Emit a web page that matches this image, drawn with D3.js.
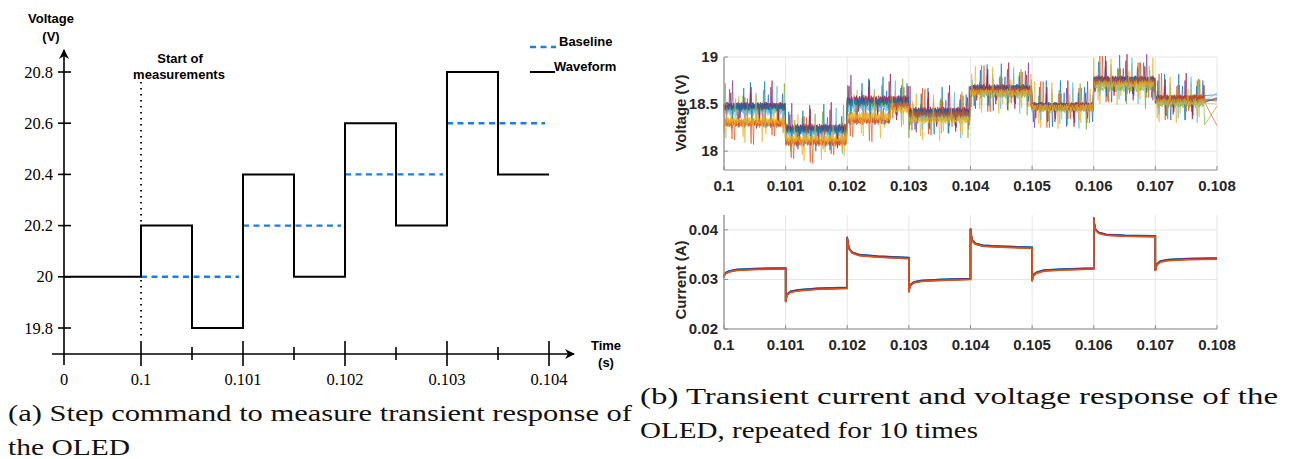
<!DOCTYPE html>
<html>
<head>
<meta charset="utf-8">
<script src="https://cdn.jsdelivr.net/npm/d3@7"></script>
<style>
body { margin: 0; background: #fff; }
svg { display: block; }
</style>
</head>
<body>
<div id="chart"></div>
<script>
// ---- panel (a): step command ----
var stepTimes = [0, 0.1, 0.1005, 0.101, 0.1015, 0.102, 0.1025, 0.103, 0.1035, 0.104];
var stepValues = [20, 20.2, 19.8, 20.4, 20, 20.6, 20.2, 20.8, 20.4, 20.4];
var baseStart = [0.1, 0.101, 0.102, 0.103];
var baseEnd = [0.101, 0.102, 0.103, 0.104];
var baseValues = [20, 20.2, 20.4, 20.6];
var stepXTicks = [0, 0.1, 0.101, 0.102, 0.103, 0.104];
var stepXLabels = ["0", "0.1", "0.101", "0.102", "0.103", "0.104"];
var stepXMinor = [0.1005, 0.1015, 0.1025, 0.1035];
var stepYTicks = [19.8, 20, 20.2, 20.4, 20.6, 20.8];
var stepYLabels = ["19.8", "20", "20.2", "20.4", "20.6", "20.8"];

// ---- panel (b): measured traces ----
var traceColors = ["#0072BD", "#D95319", "#EDB120", "#7E2F8E", "#77AC30", "#4DBEEE", "#A2142F", "#0072BD", "#D95319", "#EDB120"];
var vEdges = [0.1, 0.101, 0.102, 0.1027, 0.103, 0.104, 0.105, 0.106, 0.107, 0.1078];
var vLevels = [
    [18.46, 18.22, 18.50, 18.52, 18.40, 18.65, 18.48, 18.74, 18.55],
    [18.30, 18.10, 18.33, 18.50, 18.40, 18.64, 18.47, 18.74, 18.55],
    [18.31, 18.12, 18.38, 18.45, 18.34, 18.63, 18.47, 18.72, 18.53],
    [18.48, 18.24, 18.54, 18.55, 18.42, 18.67, 18.47, 18.76, 18.55],
    [18.45, 18.22, 18.50, 18.50, 18.36, 18.60, 18.45, 18.67, 18.50],
    [18.42, 18.19, 18.46, 18.48, 18.36, 18.62, 18.46, 18.72, 18.52],
    [18.48, 18.25, 18.55, 18.55, 18.43, 18.67, 18.48, 18.76, 18.56],
    [18.47, 18.23, 18.52, 18.53, 18.41, 18.66, 18.48, 18.75, 18.55],
    [18.29, 18.09, 18.32, 18.48, 18.39, 18.64, 18.47, 18.74, 18.56],
    [18.32, 18.13, 18.36, 18.44, 18.33, 18.62, 18.46, 18.71, 18.52]
];
var vTail = [18.60, 18.27, 18.52, 18.54, 18.48, 18.62, 18.56, 18.57, 18.55, 18.50];
// hand-typed ripple (V)
var vRipple = [
    0.02, -0.03, 0.04, -0.01, 0.03, -0.04, 0.0, 0.03, -0.02, 0.2, -0.03, 0.01, 0.04, -0.03, 0.02, -0.02,
    0.03, -0.01, -0.04, 0.02, 0.03, -0.03, -0.17, 0.01, 0.04, -0.02, 0.0, 0.03, -0.04, 0.02, -0.03, 0.03,
    -0.02, 0.04, 0.01, -0.03, 0.03, 0.0, -0.04, 0.02, 0.03, -0.01, 0.04, 0.27, -0.03, 0.01, -0.02, 0.03,
    0.0, -0.03, 0.03, 0.02, -0.04, -0.22, 0.03, -0.02, 0.01, 0.04, -0.03, 0.0, 0.03, -0.02, 0.01, -0.04,
    0.03, 0.01, -0.02, 0.04, -0.03, 0.02, 0.0, 0.03, 0.14, -0.04, 0.01, -0.03, 0.03, 0.02, -0.02, 0.0,
    -0.03, 0.03, 0.02, -0.01, 0.04, -0.03, 0.01, -0.13, 0.0, 0.03, -0.04, 0.02, 0.03, -0.02, 0.04, -0.03
];
var vRippleShift = [0, 9, 19, 29, 41, 53, 61, 73, 5, 87];

var iSegStart = [0.1, 0.101, 0.102, 0.103, 0.104, 0.105, 0.106, 0.107];
var iOffsets = [0, 0.00001, 0.00003, 0.00008, 0.0002, 0.0005, 0.001];
var iShape = [
    [0.0305, 0.0310, 0.0313, 0.0316, 0.0319, 0.0321, 0.0322],
    [0.0255, 0.0263, 0.0270, 0.0275, 0.0278, 0.0281, 0.0283],
    [0.0385, 0.0374, 0.0362, 0.0354, 0.0349, 0.0346, 0.0343],
    [0.0275, 0.0282, 0.0289, 0.0294, 0.0297, 0.0299, 0.0301],
    [0.0402, 0.0390, 0.0378, 0.0372, 0.0368, 0.0366, 0.0364],
    [0.0297, 0.0304, 0.0310, 0.0314, 0.0318, 0.0320, 0.0322],
    [0.0424, 0.0412, 0.0400, 0.0394, 0.0390, 0.0388, 0.0387],
    [0.0318, 0.0325, 0.0331, 0.0336, 0.0339, 0.0341, 0.0342]
];
var iTraceShift = [0.00012, -0.0001, -0.00005, 0.00002, 0.00006, 0.0001, -0.00002, 0.00009, -0.00012, -0.00006];
var iDrawOrder = [2, 9, 4, 5, 0, 7, 3, 6, 8, 1];

var bXTicks = [0.1, 0.101, 0.102, 0.103, 0.104, 0.105, 0.106, 0.107, 0.108];
var bXLabels = ["0.1", "0.101", "0.102", "0.103", "0.104", "0.105", "0.106", "0.107", "0.108"];
var vYTicks = [18, 18.5, 19];
var vYLabels = ["18", "18.5", "19"];
var iYTicks = [0.02, 0.03, 0.04];
var iYLabels = ["0.02", "0.03", "0.04"];

var width = 1292, height = 459;
var svg = d3.select("#chart").append("svg")
    .attr("width", width)
    .attr("height", height);

var serif = "'Liberation Serif'";
var sans = "'Liberation Sans'";

// ================= panel (a) =================
var ax = d3.scaleLinear().domain([0, 0.1, 0.104]).range([64, 141, 549]);
var ay = d3.scaleLinear().domain([19.8, 20.8]).range([328, 72]);
var axisY0 = 354;
var pa = svg.append("g");

svg.append("defs").append("marker")
    .attr("id", "arrow")
    .attr("viewBox", "0 0 10 10")
    .attr("refX", 9).attr("refY", 5)
    .attr("markerWidth", 10).attr("markerHeight", 10)
    .attr("markerUnits", "userSpaceOnUse")
    .attr("orient", "auto")
    .append("path")
    .attr("d", "M0,0 L10,5 L0,10 L3,5 Z")
    .attr("fill", "#000");

// axes
pa.append("line")
    .attr("x1", ax(0)).attr("x2", ax(0))
    .attr("y1", 365).attr("y2", 50)
    .attr("stroke", "#000").attr("stroke-width", 1.6)
    .attr("marker-end", "url(#arrow)");
pa.append("line")
    .attr("x1", 52).attr("x2", 574)
    .attr("y1", axisY0).attr("y2", axisY0)
    .attr("stroke", "#000").attr("stroke-width", 1.6)
    .attr("marker-end", "url(#arrow)");

pa.selectAll(".ytick").data(stepYTicks).enter().append("line")
    .attr("x1", 58).attr("x2", 71)
    .attr("y1", function (d) { return ay(d); })
    .attr("y2", function (d) { return ay(d); })
    .attr("stroke", "#000").attr("stroke-width", 1.6);
pa.selectAll(".ylab").data(stepYTicks).enter().append("text")
    .attr("x", 53)
    .attr("y", function (d) { return ay(d) + 5.5; })
    .attr("text-anchor", "end")
    .style("font-family", serif).style("font-size", "16.5px")
    .text(function (d, i) { return stepYLabels[i]; });

pa.selectAll(".xtick").data(stepXTicks.slice(1)).enter().append("line")
    .attr("x1", function (d) { return ax(d); })
    .attr("x2", function (d) { return ax(d); })
    .attr("y1", 341).attr("y2", 366)
    .attr("stroke", "#000").attr("stroke-width", 1.6);
pa.selectAll(".xminor").data(stepXMinor).enter().append("line")
    .attr("x1", function (d) { return ax(d); })
    .attr("x2", function (d) { return ax(d); })
    .attr("y1", 347).attr("y2", 360)
    .attr("stroke", "#000").attr("stroke-width", 1.6);
pa.selectAll(".xlab").data(stepXTicks).enter().append("text")
    .attr("x", function (d) { return ax(d); })
    .attr("y", 385)
    .attr("text-anchor", "middle")
    .style("font-family", serif).style("font-size", "16.5px")
    .text(function (d, i) { return stepXLabels[i]; });

// axis titles
pa.append("text").attr("x", 51).attr("y", 23).attr("text-anchor", "middle")
    .style("font-family", sans).style("font-weight", "bold").style("font-size", "13px")
    .text("Voltage");
pa.append("text").attr("x", 51).attr("y", 41).attr("text-anchor", "middle")
    .style("font-family", sans).style("font-weight", "bold").style("font-size", "13px")
    .text("(V)");
pa.append("text").attr("x", 606).attr("y", 350).attr("text-anchor", "middle")
    .style("font-family", sans).style("font-weight", "bold").style("font-size", "13px")
    .text("Time");
pa.append("text").attr("x", 606).attr("y", 367).attr("text-anchor", "middle")
    .style("font-family", sans).style("font-weight", "bold").style("font-size", "13px")
    .text("(s)");

// start of measurements
pa.append("line")
    .attr("x1", ax(0.1)).attr("x2", ax(0.1))
    .attr("y1", 82).attr("y2", 340)
    .attr("stroke", "#000").attr("stroke-width", 1.8)
    .attr("stroke-dasharray", "1.5,4.5");
pa.append("text").attr("x", 180).attr("y", 63).attr("text-anchor", "middle")
    .style("font-family", sans).style("font-weight", "bold").style("font-size", "13px")
    .text("Start of");
pa.append("text").attr("x", 179).attr("y", 79).attr("text-anchor", "middle")
    .style("font-family", sans).style("font-weight", "bold").style("font-size", "13px")
    .text("measurements");

// baseline
pa.selectAll(".base").data(baseValues).enter().append("line")
    .attr("x1", function (d, i) { return ax(baseStart[i]); })
    .attr("x2", function (d, i) { return ax(baseEnd[i]) - 4; })
    .attr("y1", function (d) { return ay(d); })
    .attr("y2", function (d) { return ay(d); })
    .attr("stroke", "#1a7ee6").attr("stroke-width", 2.4)
    .attr("stroke-dasharray", "6,4.5");

// waveform
var stepLine = d3.line()
    .x(function (d, i) { return ax(stepTimes[i]); })
    .y(function (d) { return ay(d); })
    .curve(d3.curveStepAfter);
pa.append("path")
    .attr("d", stepLine(stepValues))
    .attr("fill", "none").attr("stroke", "#000").attr("stroke-width", 2);

// legend
pa.append("line").attr("x1", 530).attr("x2", 556).attr("y1", 47).attr("y2", 47)
    .attr("stroke", "#1a7ee6").attr("stroke-width", 2.4).attr("stroke-dasharray", "6,4.5");
pa.append("text").attr("x", 559).attr("y", 46)
    .style("font-family", sans).style("font-weight", "bold").style("font-size", "13px")
    .text("Baseline");
pa.append("line").attr("x1", 530).attr("x2", 555).attr("y1", 72).attr("y2", 72)
    .attr("stroke", "#000").attr("stroke-width", 2);
pa.append("text").attr("x", 554).attr("y", 71)
    .style("font-family", sans).style("font-weight", "bold").style("font-size", "13px")
    .text("Waveform");

// ================= panel (b) =================
var bx = d3.scaleLinear().domain([0.1, 0.108]).range([724, 1217]);
var vy = d3.scaleLinear().domain([17.8, 19]).range([170, 57]);
var iy = d3.scaleLinear().domain([0.02, 0.043]).range([329, 215]);

function drawFrame(yScale, yTicks, yLabels, title, labelY) {
    var g = svg.append("g");
    var y0 = yScale.range()[0], y1 = yScale.range()[1];
    g.selectAll(".vg").data(bXTicks).enter().append("line")
        .attr("x1", function (d) { return bx(d); })
        .attr("x2", function (d) { return bx(d); })
        .attr("y1", y0).attr("y2", y1)
        .attr("stroke", "#e6e6e6").attr("stroke-width", 1);
    g.selectAll(".hg").data(yTicks).enter().append("line")
        .attr("x1", bx(0.1)).attr("x2", bx(0.108))
        .attr("y1", function (d) { return yScale(d); })
        .attr("y2", function (d) { return yScale(d); })
        .attr("stroke", "#e6e6e6").attr("stroke-width", 1);
    g.selectAll(".xl").data(bXTicks).enter().append("text")
        .attr("x", function (d) { return bx(d); })
        .attr("y", y0 + 21)
        .attr("text-anchor", "middle")
        .style("font-family", sans).style("font-weight", "bold").style("font-size", "15px")
        .attr("fill", "#262626")
        .text(function (d, i) { return bXLabels[i]; });
    g.selectAll(".yl").data(yTicks).enter().append("text")
        .attr("x", 718)
        .attr("y", function (d) { return yScale(d) + 5; })
        .attr("text-anchor", "end")
        .style("font-family", sans).style("font-weight", "bold").style("font-size", "15px")
        .attr("fill", "#262626")
        .text(function (d, i) { return yLabels[i]; });
    g.append("text")
        .attr("transform", "translate(686," + labelY + ") rotate(-90)")
        .attr("text-anchor", "middle")
        .style("font-family", sans).style("font-weight", "bold").style("font-size", "15px")
        .attr("fill", "#262626")
        .text(title);
    return g;
}

function drawAxes(yScale, yTicks) {
    var g = svg.append("g");
    var y0 = yScale.range()[0], y1 = yScale.range()[1];
    g.append("line").attr("x1", bx(0.1)).attr("x2", bx(0.1)).attr("y1", y0).attr("y2", y1)
        .attr("stroke", "#8c8c8c").attr("stroke-width", 1.2);
    g.append("line").attr("x1", bx(0.1)).attr("x2", bx(0.108)).attr("y1", y0).attr("y2", y0)
        .attr("stroke", "#8c8c8c").attr("stroke-width", 1.2);
    g.selectAll(".xt").data(bXTicks).enter().append("line")
        .attr("x1", function (d) { return bx(d); })
        .attr("x2", function (d) { return bx(d); })
        .attr("y1", y0).attr("y2", y0 - 4)
        .attr("stroke", "#8c8c8c");
    g.selectAll(".yt").data(yTicks).enter().append("line")
        .attr("x1", bx(0.1)).attr("x2", bx(0.1) + 4)
        .attr("y1", function (d) { return yScale(d); })
        .attr("y2", function (d) { return yScale(d); })
        .attr("stroke", "#8c8c8c");
}

drawFrame(vy, vYTicks, vYLabels, "Voltage (V)", 113);
drawFrame(iy, iYTicks, iYLabels, "Current (A)", 280);

// voltage traces
var vStep = 0.00001;
var vLine = d3.line()
    .x(function (d) { return bx(d[0]); })
    .y(function (d) { return vy(d[1]); });
var vg = svg.append("g");
vLevels.forEach(function (levels, t) {
    var pts = [];
    var n = Math.round((vEdges[vEdges.length - 1] - vEdges[0]) / vStep);
    var seg = 0;
    for (var k = 0; k <= n; k++) {
        var tm = vEdges[0] + k * vStep;
        while (seg < levels.length - 1 && tm >= vEdges[seg + 1] - 1e-9) seg++;
        var r = vRipple[(k + vRippleShift[t]) % vRipple.length];
        pts.push([tm, levels[seg] + r]);
    }
    pts.push([0.108, vTail[t]]);
    vg.append("path")
        .attr("d", vLine(pts))
        .attr("fill", "none")
        .attr("stroke", traceColors[t])
        .attr("stroke-width", 0.8)
        .attr("stroke-opacity", 0.8);
});

// current traces
var ig = svg.append("g");
iDrawOrder.forEach(function (t) {
    var shift = iTraceShift[t];
    var pts = [];
    iSegStart.forEach(function (s0, s) {
        iOffsets.forEach(function (off, j) {
            var tm = s0 + off;
            if (j === iOffsets.length - 1) tm -= 0.0000001;
            pts.push([tm, iShape[s][j] + shift]);
        });
    });
    ig.append("path")
        .attr("d", d3.line()
            .x(function (d) { return bx(d[0]); })
            .y(function (d) { return iy(d[1]); })(pts))
        .attr("fill", "none")
        .attr("stroke", traceColors[t])
        .attr("stroke-width", 1.4)
        .attr("stroke-opacity", 0.9);
});

drawAxes(vy, vYTicks);
drawAxes(iy, iYTicks);

// ================= captions =================
var cap = svg.append("g")
    .style("font-family", serif).style("font-size", "24px").attr("fill", "#111");
cap.append("text").attr("x", 8).attr("y", 421)
    .attr("textLength", 624).attr("lengthAdjust", "spacingAndGlyphs")
    .text("(a) Step command to measure transient response of");
cap.append("text").attr("x", 8).attr("y", 455)
    .attr("textLength", 122).attr("lengthAdjust", "spacingAndGlyphs")
    .text("the OLED");
cap.append("text").attr("x", 640).attr("y", 404)
    .attr("textLength", 638).attr("lengthAdjust", "spacingAndGlyphs")
    .text("(b) Transient current and voltage response of the");
cap.append("text").attr("x", 640).attr("y", 438)
    .attr("textLength", 338).attr("lengthAdjust", "spacingAndGlyphs")
    .text("OLED, repeated for 10 times");
</script>
</body>
</html>
